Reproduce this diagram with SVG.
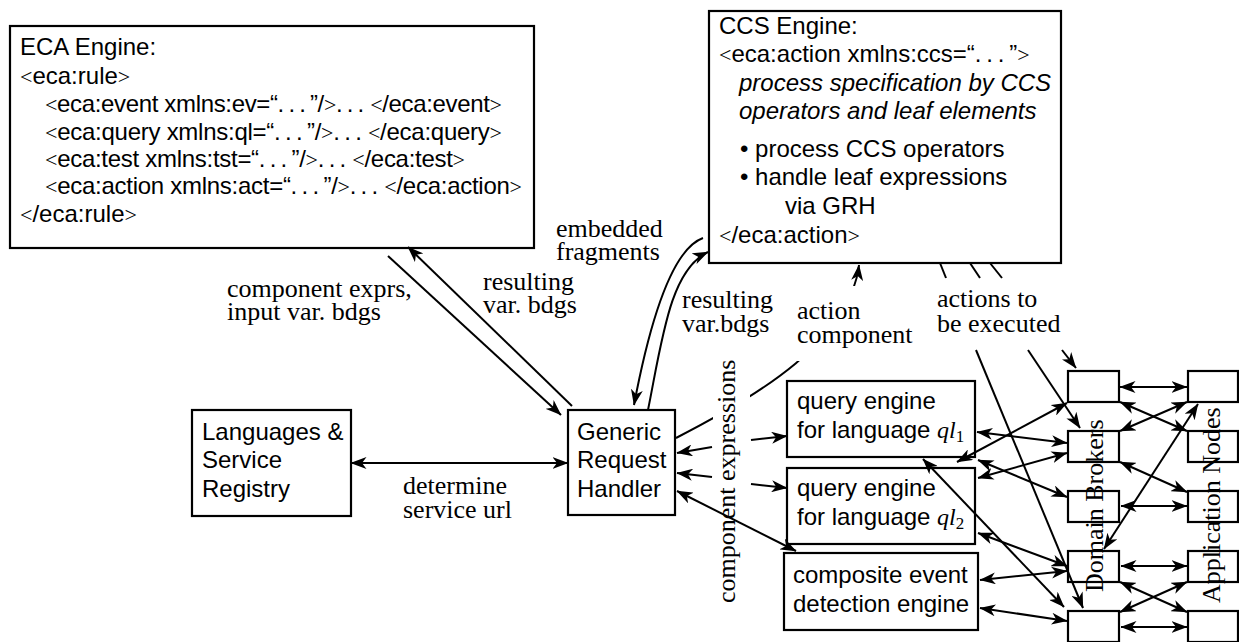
<svg xmlns="http://www.w3.org/2000/svg" width="1239" height="642" viewBox="0 0 1239 642">
<style>
.box{fill:#fff;stroke:#000;stroke-width:2.2}
.t{font-family:"Liberation Sans",Arial,sans-serif;font-size:24px;fill:#000}
.i{font-style:italic}
.s{font-family:"Liberation Serif","Times New Roman",serif;font-size:26px;fill:#000}
.m{font-family:"Liberation Serif","Times New Roman",serif}
.g{font-family:"Liberation Serif","Times New Roman",serif;font-size:22px}
.c{fill:none;stroke:#000;stroke-width:2}
.e{marker-end:url(#ah)}
.b{marker-start:url(#ah);marker-end:url(#ah)}
</style>
<defs>
<marker id="ah" markerUnits="userSpaceOnUse" viewBox="0 0 16 12" markerWidth="16" markerHeight="12" refX="15.5" refY="6" orient="auto-start-reverse"><path d="M0,0 L16,6 L0,12 L4.5,6 z" fill="#000"/></marker>
<mask id="mAC" maskUnits="userSpaceOnUse" x="0" y="0" width="1239" height="642">
<rect width="1239" height="642" fill="#fff"/>
<rect x="713" y="380" width="37" height="60" fill="#000"/>
<rect x="790" y="286" width="130" height="75" fill="#000"/>
</mask>
</defs>

<g id="eca-engine">
<rect class="box" x="10" y="26" width="524" height="222"/>
<text class="t" x="20" y="55">ECA Engine:</text>
<text class="t" x="20" y="84"><tspan class="g">&lt;</tspan>eca:rule<tspan class="g">&gt;</tspan></text>
<text class="t" x="45" y="112" textLength="457" lengthAdjust="spacing"><tspan class="g">&lt;</tspan>eca:event xmlns:ev=“.&#8201;.&#8201;.&#8201;”/<tspan class="g">&gt;</tspan>.&#8201;.&#8201;. <tspan class="g">&lt;</tspan>/eca:event<tspan class="g">&gt;</tspan></text>
<text class="t" x="45" y="140" textLength="457" lengthAdjust="spacing"><tspan class="g">&lt;</tspan>eca:query xmlns:ql=“.&#8201;.&#8201;.&#8201;”/<tspan class="g">&gt;</tspan>.&#8201;.&#8201;. <tspan class="g">&lt;</tspan>/eca:query<tspan class="g">&gt;</tspan></text>
<text class="t" x="45" y="167" textLength="420" lengthAdjust="spacing"><tspan class="g">&lt;</tspan>eca:test xmlns:tst=“.&#8201;.&#8201;.&#8201;”/<tspan class="g">&gt;</tspan>.&#8201;.&#8201;. <tspan class="g">&lt;</tspan>/eca:test<tspan class="g">&gt;</tspan></text>
<text class="t" x="45" y="194" textLength="477" lengthAdjust="spacing"><tspan class="g">&lt;</tspan>eca:action xmlns:act=“.&#8201;.&#8201;.&#8201;”/<tspan class="g">&gt;</tspan>.&#8201;.&#8201;. <tspan class="g">&lt;</tspan>/eca:action<tspan class="g">&gt;</tspan></text>
<text class="t" x="20" y="222"><tspan class="g">&lt;</tspan>/eca:rule<tspan class="g">&gt;</tspan></text>
</g>

<g id="ccs-engine">
<rect class="box" x="709" y="11" width="352" height="252"/>
<text class="t" x="719" y="34">CCS Engine:</text>
<text class="t" x="719" y="62"><tspan class="g">&lt;</tspan>eca:action xmlns:ccs=“.&#8201;.&#8201;.&#8201;”<tspan class="g">&gt;</tspan></text>
<text class="t i" x="739" y="91">process specification by CCS</text>
<text class="t i" x="739" y="119">operators and leaf elements</text>
<text class="t" x="740" y="157">• process CCS operators</text>
<text class="t" x="740" y="185">• handle leaf expressions</text>
<text class="t" x="785" y="214">via GRH</text>
<text class="t" x="719" y="243"><tspan class="g">&lt;</tspan>/eca:action<tspan class="g">&gt;</tspan></text>
</g>

<g id="registry">
<rect class="box" x="192" y="410" width="159" height="106"/>
<text class="t" x="202" y="440">Languages &amp;</text>
<text class="t" x="202" y="468">Service</text>
<text class="t" x="202" y="497">Registry</text>
</g>

<g id="grh">
<rect class="box" x="568" y="410" width="107" height="105"/>
<text class="t" x="577" y="440">Generic</text>
<text class="t" x="577" y="468">Request</text>
<text class="t" x="577" y="497">Handler</text>
</g>

<g id="qe1">
<rect class="box" x="787" y="381" width="188" height="76"/>
<text class="t" x="797" y="409">query engine</text>
<text class="t" x="797" y="438">for language <tspan class="m i">ql</tspan><tspan class="m" font-size="17" dy="4">1</tspan></text>
</g>

<g id="qe2">
<rect class="box" x="787" y="468" width="188" height="76"/>
<text class="t" x="797" y="496">query engine</text>
<text class="t" x="797" y="525">for language <tspan class="m i">ql</tspan><tspan class="m" font-size="17" dy="4">2</tspan></text>
</g>

<g id="cede">
<rect class="box" x="784" y="553" width="194" height="77"/>
<text class="t" x="793" y="583">composite event</text>
<text class="t" x="793" y="612">detection engine</text>
</g>

<g id="db1"><rect class="box" x="1068" y="371" width="51" height="31"/></g>
<g id="db2"><rect class="box" x="1068" y="431" width="51" height="31"/></g>
<g id="db3"><rect class="box" x="1068" y="491" width="51" height="31"/></g>
<g id="db4"><rect class="box" x="1068" y="551" width="51" height="31"/></g>
<g id="db5"><rect class="box" x="1068" y="611" width="51" height="31"/></g>
<g id="an1"><rect class="box" x="1188" y="371" width="50" height="31"/></g>
<g id="an2"><rect class="box" x="1188" y="431" width="50" height="31"/></g>
<g id="an3"><rect class="box" x="1188" y="491" width="50" height="31"/></g>
<g id="an4"><rect class="box" x="1188" y="551" width="50" height="31"/></g>
<g id="an5"><rect class="box" x="1188" y="611" width="50" height="31"/></g>

<g id="connectors" class="c">
<path class="e" d="M388,256 L561,415"/>
<path class="e" d="M572,406 L408,247"/>
<path class="b" d="M351,463 L568,463"/>
<path class="e" d="M703,238 C675,248 652,310 634,405"/>
<path class="e" d="M648,410 C662,340 670,270 708,252"/>
<path class="e" mask="url(#mAC)" d="M676,438 C760,395 850,340 859,265"/>
<path class="e" d="M712,447 L677,453"/>
<path class="e" d="M751,440 L787,436"/>
<path class="e" d="M712,477 L677,473"/>
<path class="e" d="M751,484 L787,488"/>
<path class="b" d="M677,491 L796,551"/>
<path d="M940,263 L946,278"/>
<path class="e" d="M976,350 L1083,608"/>
<path d="M970,263 L980,278"/>
<path class="e" d="M1028,350 L1080,428"/>
<path d="M990,263 L1002,278"/>
<path class="e" d="M1062,350 L1076,368"/>
<path class="b" d="M977,432 L1067,443"/>
<path class="b" d="M957,462 L1067,403"/>
<path class="b" d="M978,478 L1067,453"/>
<path class="b" d="M978,460 L1067,497"/>
<path class="b" d="M978,533 L1067,566"/>
<path class="b" d="M980,580 L1067,571"/>
<path class="b" d="M980,608 L1067,621"/>
<path class="b" d="M923,459 L1064,607"/>
<path class="b" d="M1120,387 L1187,387"/>
<path class="b" d="M1120,402 L1187,431"/>
<path class="b" d="M1120,431 L1187,402"/>
<path class="b" d="M1120,462 L1187,492"/>
<path class="b" d="M1121,506 L1187,506"/>
<path class="b" d="M1198,404 L1104,549"/>
<path class="b" d="M1121,566 L1187,566"/>
<path class="b" d="M1120,582 L1187,612"/>
<path class="b" d="M1120,612 L1187,582"/>
<path class="b" d="M1121,627 L1187,627"/>
</g>

<g id="labels">
<text class="s" x="227" y="297">component exprs,</text>
<text class="s" x="227" y="320">input var. bdgs</text>
<text class="s" x="483" y="290">resulting</text>
<text class="s" x="483" y="313">var. bdgs</text>
<text class="s" x="556" y="237">embedded</text>
<text class="s" x="556" y="260">fragments</text>
<text class="s" x="682" y="308">resulting</text>
<text class="s" x="682" y="332">var.bdgs</text>
<text class="s" x="797" y="319">action</text>
<text class="s" x="797" y="343">component</text>
<text class="s" x="937" y="307">actions to</text>
<text class="s" x="937" y="332">be executed</text>
<text class="s" x="403" y="494">determine</text>
<text class="s" x="403" y="518">service url</text>
<text class="s" transform="translate(735,603) rotate(-90)">component expressions</text>
<text class="s" transform="translate(1103,592) rotate(-90)">Domain Brokers</text>
<text class="s" transform="translate(1220,603) rotate(-90)">Application Nodes</text>
</g>
</svg>
